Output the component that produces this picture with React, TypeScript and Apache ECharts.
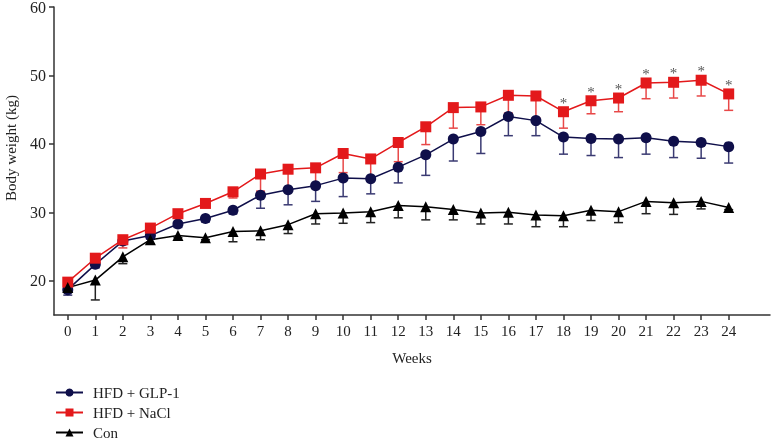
import React, { useEffect, useRef } from "react";
import * as echarts from "echarts";

const weeks = [0, 1, 2, 3, 4, 5, 6, 7, 8, 9, 10, 11, 12, 13, 14, 15, 16, 17, 18, 19, 20, 21, 22, 23, 24];
const yTicks = [20, 30, 40, 50, 60];
const glp1 = [18.7, 22.4, 25.8, 26.6, 28.3, 29.1, 30.3, 32.5, 33.3, 33.9, 35.0, 34.9, 36.6, 38.4, 40.7, 41.8, 44.0, 43.4, 41.0, 40.8, 40.7, 40.9, 40.4, 40.2, 39.6];
const glp1Sd = [0.8, 0.5, 0.5, 0.5, 0.5, 0.5, 0.5, 1.9, 2.2, 2.3, 2.7, 2.2, 2.3, 3.0, 3.2, 3.2, 2.8, 2.2, 2.5, 2.5, 2.7, 2.4, 2.4, 2.3, 2.4];
const nacl = [19.8, 23.3, 26.0, 27.7, 29.8, 31.3, 33.0, 35.6, 36.3, 36.5, 38.6, 37.8, 40.2, 42.5, 45.3, 45.4, 47.1, 47.0, 44.7, 46.3, 46.7, 48.9, 49.0, 49.3, 47.3];
const naclSd = [0.5, 0.5, 1.2, 0.5, 0.5, 0.5, 0.9, 2.5, 2.8, 2.6, 2.8, 2.8, 2.8, 2.6, 3.0, 2.6, 2.6, 3.2, 2.4, 1.9, 2.0, 2.3, 2.3, 2.3, 2.4];
const con = [19.0, 20.1, 23.5, 26.0, 26.6, 26.3, 27.2, 27.3, 28.2, 29.8, 29.9, 30.1, 31.0, 30.8, 30.4, 29.9, 30.0, 29.6, 29.5, 30.3, 30.1, 31.6, 31.4, 31.6, 30.7];
const conSd = [0.6, 2.9, 1.0, 0.6, 0.3, 0.3, 1.5, 1.3, 1.3, 1.5, 1.5, 1.6, 1.8, 1.9, 1.5, 1.6, 1.7, 1.7, 1.6, 1.5, 1.6, 1.8, 1.7, 1.1, 0.3];
const significantWeeks = [18, 19, 20, 21, 22, 23, 24];
const seriesNames = ["HFD + GLP-1", "HFD + NaCl", "Con"];

const FONT = "'Liberation Serif', 'Times New Roman', serif";

function errSeries(vals: number[], sd: number[], color: string) {
  return {
    type: "custom",
    silent: true,
    data: weeks.map((w, i) => [w, vals[i], vals[i] - sd[i]]),
    encode: { x: 0, y: [1, 2] },
    renderItem: (params: any, api: any) => {
      const x = api.value(0);
      const p1 = api.coord([x, api.value(1)]);
      const p2 = api.coord([x, api.value(2)]);
      const style = { stroke: color, lineWidth: 1.5 };
      return {
        type: "group",
        children: [
          { type: "line", shape: { x1: p1[0], y1: p1[1], x2: p2[0], y2: p2[1] }, style },
          { type: "line", shape: { x1: p2[0] - 4.5, y1: p2[1], x2: p2[0] + 4.5, y2: p2[1] }, style },
        ],
      };
    },
  };
}

export default function App() {
  const ref = useRef<HTMLDivElement>(null);
  useEffect(() => {
    if (!ref.current) return;
    const chart = echarts.init(ref.current, null, { renderer: "svg" });
    const red = "#e3191b";
    const navy = "#0f0f4a";
    chart.setOption({
      animation: false,
      textStyle: { fontFamily: FONT },
      grid: { left: 54, right: 1, top: 7, bottom: 125, outerBoundsMode: "none", containLabel: false },
      legend: {
        orient: "vertical",
        left: 55,
        top: 385,
        height: 60,
        padding: 0,
        itemWidth: 27,
        itemHeight: 10,
        itemGap: 5,
        data: seriesNames,
        textStyle: { fontFamily: FONT, fontSize: 15, color: "#222", padding: [0, 0, 0, 5] },
      },
      xAxis: {
        type: "value",
        min: -0.5,
        max: 25.5,
        name: "Weeks",
        nameLocation: "middle",
        nameGap: 35,
        nameTextStyle: { fontFamily: FONT, fontSize: 15, color: "#222" },
        axisLine: { onZero: false, lineStyle: { color: "#333", width: 1.5 } },
        axisTick: { customValues: weeks, length: 5, lineStyle: { color: "#333", width: 1.5 } },
        axisLabel: { customValues: weeks, fontFamily: FONT, fontSize: 15, color: "#222", margin: 8 },
        splitLine: { show: false },
      },
      yAxis: {
        type: "value",
        min: 15,
        max: 60,
        axisLine: { show: true, onZero: false, lineStyle: { color: "#333", width: 1.5 } },
        axisTick: { show: true, customValues: yTicks, length: 5, lineStyle: { color: "#333", width: 1.5 } },
        axisLabel: { customValues: yTicks, fontFamily: FONT, fontSize: 16, color: "#222", margin: 8 },
        splitLine: { show: false },
      },
      graphic: [
        {
          type: "text",
          x: 11,
          y: 148,
          rotation: Math.PI / 2,
          style: {
            text: "Body weight (kg)",
            font: `15px ${FONT}`,
            fill: "#222",
            align: "center",
            verticalAlign: "middle",
          },
        },
      ],
      series: [
        errSeries(glp1, glp1Sd, "#3a3a72"),
        {
          name: "HFD + GLP-1",
          type: "line",
          data: weeks.map((w, i) => [w, glp1[i]]),
          symbol: "circle",
          symbolSize: 11,
          itemStyle: { color: navy },
          lineStyle: { color: navy, width: 1.5 },
        },
        errSeries(nacl, naclSd, "#e84848"),
        {
          name: "HFD + NaCl",
          type: "line",
          data: weeks.map((w, i) => ({
            value: [w, nacl[i]],
            label: significantWeeks.includes(w)
              ? { show: true, position: "top", formatter: "*", distance: -4, fontSize: 15, color: "#555", fontFamily: FONT }
              : { show: false },
          })),
          symbol: "rect",
          symbolSize: 11,
          itemStyle: { color: red },
          lineStyle: { color: red, width: 1.5 },
        },
        errSeries(con, conSd, "#222"),
        {
          name: "Con",
          type: "line",
          data: weeks.map((w, i) => [w, con[i]]),
          symbol: "triangle",
          symbolSize: 11,
          itemStyle: { color: "#000" },
          lineStyle: { color: "#000", width: 1.5 },
        },
      ],
    });
    return () => chart.dispose();
  }, []);
  return <div ref={ref} style={{ position: "fixed", left: 0, top: 0, width: 771, height: 440 }} />;
}
